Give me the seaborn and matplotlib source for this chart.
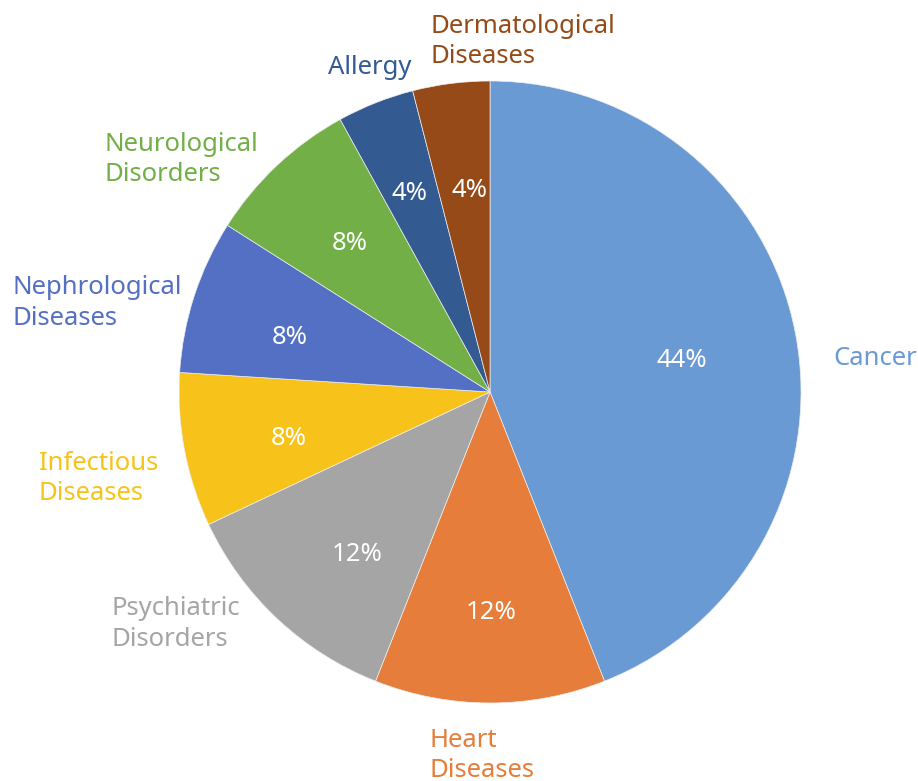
import numpy as np
import matplotlib
matplotlib.use('Agg')
import matplotlib.pyplot as plt
import seaborn as sns

categories = ['Cancer', 'Heart\nDiseases', 'Psychiatric\nDisorders', 'Infectious\nDiseases',
              'Nephrological\nDiseases', 'Neurological\nDisorders', 'Allergy', 'Dermatological\nDiseases']
shares = [44, 12, 12, 8, 8, 8, 4, 4]
colors = ['#6A9AD4', '#E67D3A', '#A5A5A5', '#F7C31A', '#5470C4', '#72AF46', '#335B92', '#954A18']

# label placement tweaks: (distance, angle nudge in degrees, horizontal anchor)
label_style = [(1.109, -4.8, 'left'), (1.161, -1.3, 'center'), (1.092, -4.2, 'right'),
               (1.101, 3.4, 'right'), (1.033, 1.5, 'right'), (1.061, 1.4, 'right'),
               (1.12, -1.4, 'center'), (1.151, 2.4, 'left')]
# percent label placement: (distance, angle nudge)
pct_style = [(0.627, -0.5), (0.70, 0.3), (0.667, 3.5), (0.662, 1.5),
             (0.669, 2.0), (0.662, -0.4), (0.696, 0.1), (0.662, -1.6)]

sns.set_theme(style='white')
plt.rcParams['font.family'] = ['Noto Sans', 'DejaVu Sans']

fig = plt.figure(figsize=(9.18, 7.81), dpi=100)
ax = fig.add_axes([0.195, 0.0999, 0.6776, 0.7964])

wedges, _, autotexts = ax.pie(shares, colors=colors, startangle=90, counterclock=False,
                              autopct='%1.0f%%', pctdistance=0.67,
                              wedgeprops=dict(edgecolor='#eeeeee', linewidth=0.5),
                              textprops=dict(color='white', fontsize=18.5))

for w, t, (dist, nudge) in zip(wedges, autotexts, pct_style):
    ang = np.deg2rad((w.theta1 + w.theta2) / 2 + nudge)
    t.set_position((dist * np.cos(ang), dist * np.sin(ang)))
    t.set_va('center_baseline')

for w, lab, col, (dist, nudge, ha) in zip(wedges, categories, colors, label_style):
    ang = np.deg2rad((w.theta1 + w.theta2) / 2 + nudge)
    ax.text(dist * np.cos(ang), dist * np.sin(ang) - 0.008, lab, color=col, fontsize=18.5,
            ha=ha, va='center', multialignment='left', linespacing=1.3)

ax.set_xlim(-1, 1)
ax.set_ylim(-1, 1)
ax.set_aspect('equal')
ax.axis('off')

fig.savefig('out.png', dpi=100)
